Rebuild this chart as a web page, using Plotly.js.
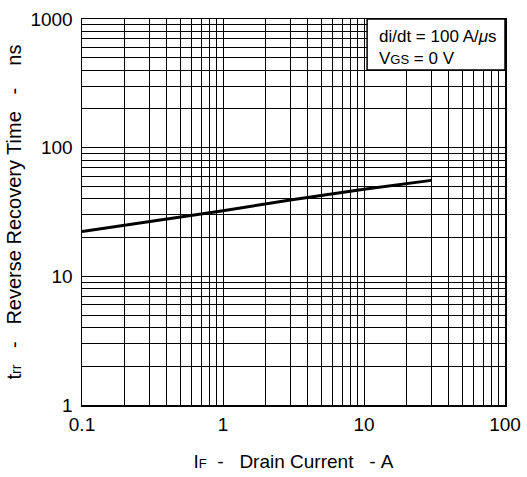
<!DOCTYPE html>
<html>
<head>
<meta charset="utf-8">
<script src="https://cdn.plot.ly/plotly-3.0.1.min.js"></script>
<style>html,body{margin:0;padding:0;background:#fff;}#chart{width:527px;height:477px;}</style>
</head>
<body>
<div id="chart"></div>
<script>
// Data
const currentA = [0.1, 0.3, 1, 3, 10, 30];
const trrNs = [22.3, 26.6, 32.3, 39.2, 47.6, 55.7];

const xTickVals = [0.1,0.2,0.3,0.4,0.5,0.6,0.7,0.8,0.9,1,2,3,4,5,6,7,8,9,10,20,30,40,50,60,70,80,90,100];
const xTickText = xTickVals.map(v => [0.1,1,10,100].includes(v) ? String(v) : '');
const yTickVals = [1,2,3,4,5,6,7,8,9,10,20,30,40,50,60,70,80,90,100,200,300,400,500,600,700,800,900,1000];
const yTickText = yTickVals.map(v => [1,10,100,1000].includes(v) ? String(v) : '');

const font = 'Liberation Sans, Arial, Helvetica, sans-serif';
const sp = '\u00a0';
const s = n => sp.repeat(n);

const trace = {
  x: currentA, y: trrNs, type: 'scatter', mode: 'lines',
  line: {color: '#000', width: 3}, hoverinfo: 'skip'
};

const layout = {
  width: 527, height: 477,
  margin: {l: 82, r: 22, t: 19, b: 72},
  paper_bgcolor: '#fff', plot_bgcolor: '#fff',
  showlegend: false,
  font: {family: font, size: 19, color: '#000'},
  xaxis: {
    type: 'log', range: [-1, 2],
    tickvals: xTickVals, ticktext: xTickText,
    ticks: '', showgrid: true, gridcolor: '#000', gridwidth: 1,
    showline: true, linecolor: '#000', linewidth: 1.5, mirror: true,
    zeroline: false, tickfont: {size: 19}, ticklabelstandoff: 2,
    title: {text: 'I<span style="font-size:13px">F</span>' + s(2) + '-' + s(3) + 'Drain Current' + s(3) + '-' + s(1) + 'A', font: {size: 19}, standoff: 20},
    automargin: false
  },
  yaxis: {
    type: 'log', range: [0, 3],
    tickvals: yTickVals, ticktext: yTickText,
    ticks: '', showgrid: true, gridcolor: '#000', gridwidth: 1,
    showline: true, linecolor: '#000', linewidth: 1.5, mirror: true,
    zeroline: false, tickfont: {size: 19}, ticklabelstandoff: 4,
    title: {text: 't<span style="font-size:14px">rr</span>' + s(3) + '-' + s(3) + 'Reverse Recovery Time' + s(3) + '-' + s(4) + 'ns', font: {size: 20}, standoff: 3},
    automargin: false
  },
  shapes: [{
    type: 'rect', xref: 'paper', yref: 'paper',
    x0: 0.674, x1: 1, y0: 0.868, y1: 1,
    fillcolor: '#fff', line: {color: '#000', width: 1.5}, layer: 'above'
  }],
  annotations: [{
    xref: 'paper', yref: 'paper', x: 0.698, y: 0.926,
    xanchor: 'left', yanchor: 'middle', align: 'left', showarrow: false,
    text: 'di/dt = 100 A/<i>μ</i>s<br>V<span style="font-size:13px">GS</span> = 0 V',
    font: {family: font, size: 17, color: '#000'}
  }]
};

Plotly.newPlot('chart', [trace], layout, {staticPlot: true, displayModeBar: false});
</script>
</body>
</html>
